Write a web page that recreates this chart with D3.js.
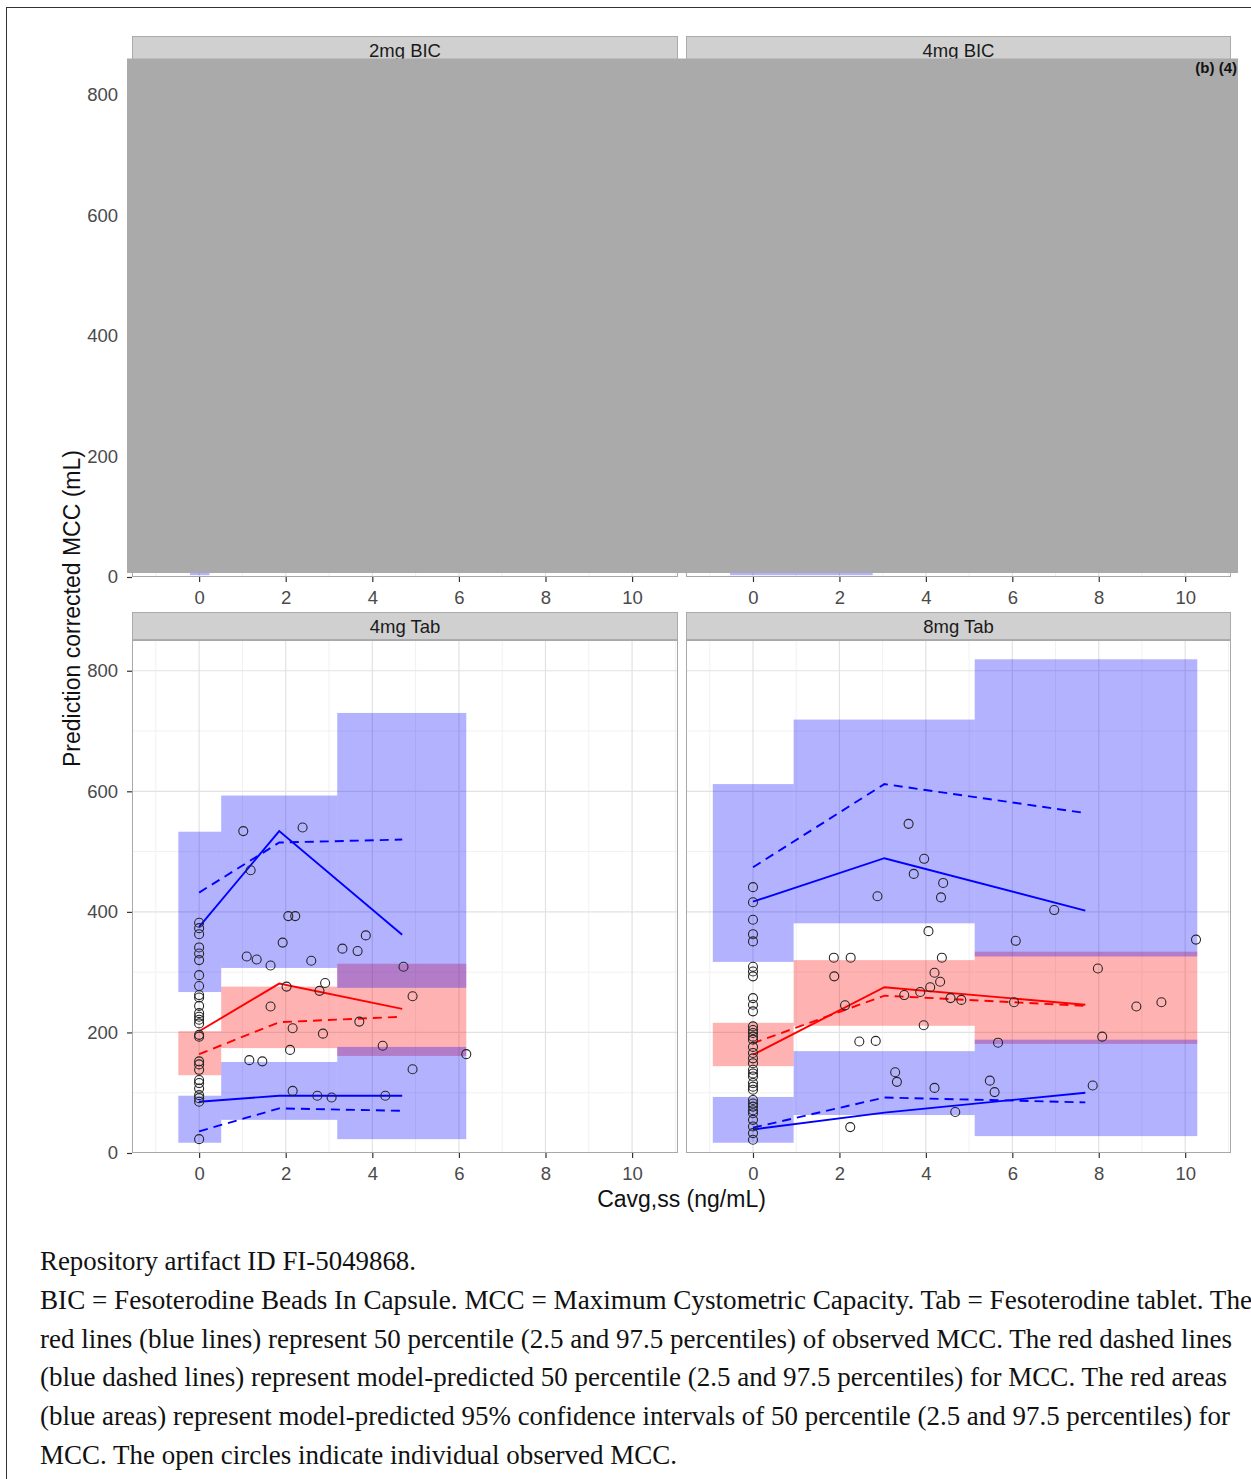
<!DOCTYPE html>
<html>
<head>
<meta charset="utf-8">
<script src="https://cdn.jsdelivr.net/npm/d3@7"></script>
<style>
body { margin: 0; background: #fff; }
</style>
</head>
<body>
<div id="chart"></div>
<script>
var width = 1251,
	height = 1479;

var xTicks = [0, 2, 4, 6, 8, 10];
var yTicks = [0, 200, 400, 600, 800];
var xMinor = [-1, 1, 3, 5, 7, 9, 11];
var yMinor = [100, 300, 500, 700];

// 2mg BIC and 4mg BIC sit under the grey box, only the bottom edge of the low band shows
var bic2Bins = [[-0.21, 0.24]];
var bic2LowCI = [[3, 80]];
var bic4Bins = [[-0.53, 2.77]];
var bic4LowCI = [[3, 80]];

// 4mg Tab
var tab4Bins = [[-0.48, 0.51], [0.51, 3.19], [3.19, 6.17]];
var tab4HighCI = [[267, 533], [307, 593], [274, 730]];
var tab4MedCI = [[129, 202], [174, 276], [161, 314]];
var tab4LowCI = [[17, 95], [55, 151], [23, 176]];
var tab4BinX = [0, 1.85, 4.69];
var tab4ObsHigh = [375, 534, 362];
var tab4PredHigh = [432, 515, 520];
var tab4ObsMed = [202, 281, 239];
var tab4PredMed = [164, 217, 226];
var tab4ObsLow = [85, 95, 95];
var tab4PredLow = [36, 74, 70];
var tab4Points = [
	[0, 382], [0, 373], [0, 363], [0, 341], [0, 331], [0, 320], [0, 295], [0, 277], [0, 262],
	[0, 258], [0, 244], [0, 232], [0, 226], [0, 221], [0, 215], [0, 196], [0, 193], [0, 152],
	[0, 147], [0, 138], [0, 121], [0, 116], [0, 107], [0, 96], [0, 91], [0, 85], [0, 23],
	[1.02, 534], [2.39, 540], [1.19, 469], [2.06, 393], [2.22, 393], [3.85, 361], [1.93, 349],
	[3.31, 339], [3.66, 335], [1.10, 326], [1.33, 321], [2.59, 319], [1.65, 311], [4.72, 309],
	[2.91, 282], [2.02, 276], [2.78, 269], [4.93, 260], [1.65, 243], [3.70, 218], [2.16, 207],
	[2.86, 198], [4.24, 178], [2.10, 171], [6.17, 164], [1.16, 154], [1.46, 152], [4.93, 139],
	[2.16, 103], [2.73, 95], [3.06, 92], [4.30, 95]
];

// 8mg Tab
var tab8Bins = [[-0.93, 0.94], [0.94, 5.13], [5.13, 10.28]];
var tab8HighCI = [[317, 612], [381, 719], [326, 819]];
var tab8MedCI = [[144, 216], [211, 320], [181, 334]];
var tab8LowCI = [[17, 93], [63, 169], [28, 188]];
var tab8BinX = [0, 3.04, 7.69];
var tab8ObsHigh = [417, 489, 402];
var tab8PredHigh = [474, 612, 564];
var tab8ObsMed = [163, 275, 246];
var tab8PredMed = [182, 261, 244];
var tab8ObsLow = [39, 67, 100];
var tab8PredLow = [42, 92, 84];
var tab8Points = [
	[0, 441], [0, 416], [0, 387], [0, 363], [0, 351], [0, 309], [0, 301], [0, 293], [0, 257],
	[0, 246], [0, 235], [0, 210], [0, 204], [0, 199], [0, 193], [0, 188], [0, 176], [0, 166],
	[0, 157], [0, 149], [0, 138], [0, 132], [0, 127], [0, 116], [0, 110], [0, 105], [0, 88],
	[0, 82], [0, 77], [0, 71], [0, 66], [0, 55], [0, 44], [0, 33], [0, 22],
	[3.60, 546], [3.96, 488], [3.72, 463], [4.40, 448], [2.88, 426], [4.35, 424], [6.97, 403],
	[4.06, 368], [6.08, 352], [10.25, 354], [1.87, 324], [2.26, 324], [4.37, 324], [7.98, 306],
	[1.88, 293], [4.20, 299], [4.33, 284], [4.10, 275], [3.87, 267], [3.50, 262], [4.57, 257],
	[4.82, 254], [6.04, 250], [2.13, 245], [8.87, 243], [9.45, 250], [3.95, 212], [8.08, 193],
	[2.46, 185], [2.84, 186], [5.67, 183], [3.29, 134], [3.33, 118], [5.48, 120], [5.59, 101],
	[4.20, 108], [7.86, 112], [4.68, 68], [2.25, 43]
];

var captionLines = [
	"Repository artifact ID FI-5049868.",
	"BIC = Fesoterodine Beads In Capsule. MCC = Maximum Cystometric Capacity. Tab = Fesoterodine tablet. The",
	"red lines (blue lines) represent 50 percentile (2.5 and 97.5 percentiles) of observed MCC. The red dashed lines",
	"(blue dashed lines) represent model-predicted 50 percentile (2.5 and 97.5 percentiles) for MCC. The red areas",
	"(blue areas) represent model-predicted 95% confidence intervals of 50 percentile (2.5 and 97.5 percentiles) for",
	"MCC. The open circles indicate individual observed MCC."
];
var captionWidths = [376, 1212, 1192, 1187, 1190, 637];

var blue = "#0000ff",
	red = "#ff0000";

var panels = [
	{name: "2mg BIC", col: 0, row: 0, bins: bic2Bins, high: [], med: [], low: bic2LowCI, binX: [], lines: [], points: []},
	{name: "4mg BIC", col: 1, row: 0, bins: bic4Bins, high: [], med: [], low: bic4LowCI, binX: [], lines: [], points: []},
	{name: "4mg Tab", col: 0, row: 1, bins: tab4Bins, high: tab4HighCI, med: tab4MedCI, low: tab4LowCI, binX: tab4BinX,
		lines: [
			{vals: tab4ObsHigh, color: blue, dash: false},
			{vals: tab4PredHigh, color: blue, dash: true},
			{vals: tab4ObsMed, color: red, dash: false},
			{vals: tab4PredMed, color: red, dash: true},
			{vals: tab4ObsLow, color: blue, dash: false},
			{vals: tab4PredLow, color: blue, dash: true}
		],
		points: tab4Points},
	{name: "8mg Tab", col: 1, row: 1, bins: tab8Bins, high: tab8HighCI, med: tab8MedCI, low: tab8LowCI, binX: tab8BinX,
		lines: [
			{vals: tab8ObsHigh, color: blue, dash: false},
			{vals: tab8PredHigh, color: blue, dash: true},
			{vals: tab8ObsMed, color: red, dash: false},
			{vals: tab8PredMed, color: red, dash: true},
			{vals: tab8ObsLow, color: blue, dash: false},
			{vals: tab8PredLow, color: blue, dash: true}
		],
		points: tab8Points}
];

var colX = [[132, 678], [686, 1231]];
var rowY = [[64, 577], [640, 1153]];
var stripH = 28;
var xDomain = [-1.55, 11.06],
	yDomain = [0, 851];

var svg = d3.select("#chart")
	.append("svg")
		.attr("width", width)
		.attr("height", height)
		.style("background-color", "#fff")
		.style("font-family", "'Liberation Sans', Arial, sans-serif");

panels.forEach(function(p, idx){
	var left = colX[p.col][0], right = colX[p.col][1];
	var top = rowY[p.row][0], bottom = rowY[p.row][1];

	var x = d3.scaleLinear().domain(xDomain).range([left, right]);
	var y = d3.scaleLinear().domain(yDomain).range([bottom, top]);

	svg.append("clipPath")
		.attr("id", "clip" + idx)
		.append("rect")
			.attr("x", left).attr("y", top)
			.attr("width", right - left).attr("height", bottom - top);

	var g = svg.append("g").attr("clip-path", "url(#clip" + idx + ")");

	g.append("rect")
		.attr("x", left).attr("y", top)
		.attr("width", right - left).attr("height", bottom - top)
		.attr("fill", "#fff");

	// grid
	g.selectAll(".gx-minor").data(xMinor).enter().append("line")
		.attr("x1", function(d){ return x(d); }).attr("x2", function(d){ return x(d); })
		.attr("y1", top).attr("y2", bottom)
		.attr("stroke", "#f1f1f1").attr("stroke-width", 1);
	g.selectAll(".gy-minor").data(yMinor).enter().append("line")
		.attr("y1", function(d){ return y(d); }).attr("y2", function(d){ return y(d); })
		.attr("x1", left).attr("x2", right)
		.attr("stroke", "#f1f1f1").attr("stroke-width", 1);
	g.selectAll(".gx-major").data(xTicks).enter().append("line")
		.attr("x1", function(d){ return x(d); }).attr("x2", function(d){ return x(d); })
		.attr("y1", top).attr("y2", bottom)
		.attr("stroke", "#e2e2e2").attr("stroke-width", 1.2);
	g.selectAll(".gy-major").data(yTicks).enter().append("line")
		.attr("y1", function(d){ return y(d); }).attr("y2", function(d){ return y(d); })
		.attr("x1", left).attr("x2", right)
		.attr("stroke", "#e2e2e2").attr("stroke-width", 1.2);

	// red bands first, blue on top
	function band(data, color){
		g.selectAll(null).data(data).enter().append("rect")
			.attr("x", function(d, i){ return x(p.bins[i][0]); })
			.attr("width", function(d, i){ return x(p.bins[i][1]) - x(p.bins[i][0]); })
			.attr("y", function(d){ return y(d[1]); })
			.attr("height", function(d){ return y(d[0]) - y(d[1]); })
			.attr("fill", color)
			.attr("fill-opacity", 0.3);
	}
	band(p.med, red);
	band(p.high, blue);
	band(p.low, blue);

	var line = d3.line()
		.x(function(d, i){ return x(p.binX[i]); })
		.y(function(d){ return y(d); });

	p.lines.forEach(function(l){
		g.append("path")
			.attr("d", line(l.vals))
			.attr("fill", "none")
			.attr("stroke", l.color)
			.attr("stroke-width", 1.9)
			.attr("stroke-dasharray", l.dash ? "9,6" : null);
	});

	g.selectAll(".pt").data(p.points).enter().append("circle")
		.attr("cx", function(d){ return x(d[0]); })
		.attr("cy", function(d){ return y(d[1]); })
		.attr("r", 4.5)
		.attr("fill", "none")
		.attr("stroke", "#262626")
		.attr("stroke-width", 1.1);

	svg.append("rect")
		.attr("x", left + 0.5).attr("y", top + 0.5)
		.attr("width", right - left - 1).attr("height", bottom - top - 1)
		.attr("fill", "none")
		.attr("stroke", "#a8a8a8")
		.attr("stroke-width", 1);

	// strip
	svg.append("rect")
		.attr("x", left + 0.5).attr("y", top - stripH + 0.5)
		.attr("width", right - left - 1).attr("height", stripH - 1)
		.attr("fill", "#d0d0d0")
		.attr("stroke", "#ababab");
	svg.append("text")
		.attr("x", (left + right) / 2)
		.attr("y", top - stripH / 2 + 6.5)
		.attr("text-anchor", "middle")
		.attr("font-size", "18.5px")
		.attr("fill", "#1a1a1a")
		.text(p.name);

	// axes
	var xAxis = svg.append("g")
		.attr("transform", "translate(0," + bottom + ")")
		.call(d3.axisBottom(x).tickValues(xTicks).tickSize(5).tickPadding(9));
	styleAxis(xAxis);

	if(p.col === 0){
		var yAxis = svg.append("g")
			.attr("transform", "translate(" + left + ",0)")
			.call(d3.axisLeft(y).tickValues(yTicks).tickSize(5).tickPadding(9));
		styleAxis(yAxis);
	}
});

function styleAxis(a){
	a.select(".domain").remove();
	a.selectAll(".tick line").attr("stroke", "#333").attr("stroke-width", 1.2);
	a.selectAll(".tick text")
		.attr("fill", "#4a4a4a")
		.style("font-size", "18.5px")
		.style("font-family", "'Liberation Sans', Arial, sans-serif");
}

// grey box over the top row
svg.append("rect")
	.attr("x", 127).attr("y", 58.5)
	.attr("width", 1111).attr("height", 514.5)
	.attr("fill", "#aaaaaa");
svg.append("text")
	.attr("x", 1237).attr("y", 73)
	.attr("text-anchor", "end")
	.attr("font-size", "15px")
	.attr("font-weight", "bold")
	.attr("fill", "#111")
	.text("(b) (4)");

// axis titles
svg.append("text")
	.attr("x", (colX[0][0] + colX[1][1]) / 2)
	.attr("y", 1207)
	.attr("text-anchor", "middle")
	.attr("font-size", "23px")
	.attr("fill", "#111")
	.text("Cavg,ss (ng/mL)");
svg.append("text")
	.attr("transform", "translate(80," + (rowY[0][0] + rowY[1][1]) / 2 + ") rotate(-90)")
	.attr("text-anchor", "middle")
	.attr("font-size", "23px")
	.attr("fill", "#111")
	.text("Prediction corrected MCC (mL)");

// caption
svg.selectAll(".cap").data(captionLines).enter().append("text")
	.attr("x", 40)
	.attr("y", function(d, i){ return 1270 + i * 38.8; })
	.attr("font-family", "'Liberation Serif', 'Times New Roman', serif")
	.attr("font-size", "27px")
	.attr("fill", "#111")
	.attr("textLength", function(d, i){ return captionWidths[i]; })
	.attr("lengthAdjust", "spacingAndGlyphs")
	.text(function(d){ return d; });

// frame
svg.append("rect")
	.attr("x", 6.5).attr("y", 7.5)
	.attr("width", 1300).attr("height", 1500)
	.attr("fill", "none")
	.attr("stroke", "#333")
	.attr("stroke-width", 1);
</script>
</body>
</html>
